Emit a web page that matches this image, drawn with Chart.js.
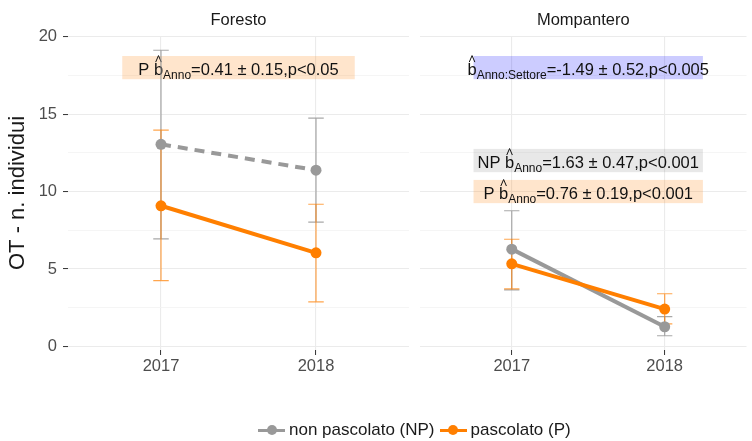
<!DOCTYPE html>
<html>
<head>
<meta charset="utf-8">
<script src="https://cdn.jsdelivr.net/npm/chart.js@4/dist/chart.umd.min.js"></script>
<style>
  html, body { margin: 0; padding: 0; background: #fff; }
  #wrap { position: relative; width: 752px; height: 441px; overflow: hidden; font-family: "Liberation Sans", Arial, sans-serif; }
  #wrap canvas { position: absolute; left: 0; top: 0; }
  #legend { position: absolute; top: 420px; left: 258px; display: flex; align-items: center; font-size: 17px; color: #1a1a1a; white-space: nowrap; }
  .key { position: relative; display: inline-block; width: 27px; height: 20px; margin-right: 4px; }
  .key::before { content: ""; position: absolute; left: 0; right: 0; top: 8.5px; height: 3px; background: var(--c); }
  .key::after { content: ""; position: absolute; left: 8.5px; top: 5px; width: 10px; height: 10px; border-radius: 50%; background: var(--c); }
  .lab { margin-right: 5px; }
</style>
</head>
<body>
<div id="wrap">
  <canvas id="left" width="752" height="441"></canvas>
  <canvas id="right" width="752" height="441"></canvas>
  <div id="legend">
    <span class="key" style="--c:#999999"></span><span class="lab">non pascolato (NP)</span>
    <span class="key" style="--c:#ff7f00"></span><span class="lab">pascolato (P)</span>
  </div>
</div>
<script>
const years = ["2017", "2018"];
const sites = ["Foresto", "Mompantero"];
const yTicks = [0, 2.5, 5, 7.5, 10, 12.5, 15, 17.5, 20];

// mean and error bar limits, per site, per year
const forestoNP = [13.05, 11.38];
const forestoNPlo = [6.94, 8.03];
const forestoNPhi = [19.12, 14.74];
const forestoP = [9.08, 6.04];
const forestoPlo = [4.25, 2.88];
const forestoPhi = [13.96, 9.18];

const mompNP = [6.28, 1.27];
const mompNPlo = [3.65, 0.69];
const mompNPhi = [8.76, 1.93];
const mompP = [5.33, 2.41];
const mompPlo = [3.72, 1.46];
const mompPhi = [6.92, 3.40];

// slope annotations
const noteSite = ["Foresto", "Mompantero", "Mompantero", "Mompantero"];
const notePrefix = ["P ", "", "NP ", "P "];
const noteSub = ["Anno", "Anno:Settore", "Anno", "Anno"];
const noteRest = ["=0.41 \u00b1 0.15,p<0.05", "=-1.49 \u00b1 0.52,p<0.005", "=1.63 \u00b1 0.47,p<0.001", "=0.76 \u00b1 0.19,p<0.001"];
const noteGroup = ["P", "both", "NP", "P"];
const noteY = [18, 18, 12, 10];

const GREY = "#999999";
const ORANGE = "#ff7f00";
const FONT = '"Liberation Sans", Arial, sans-serif';
const noteFill = { P: "rgba(255,127,0,0.2)", NP: "rgba(128,128,128,0.18)", both: "rgba(0,0,255,0.2)" };

const siteData = {
  Foresto: { np: forestoNP, npLo: forestoNPlo, npHi: forestoNPhi, p: forestoP, pLo: forestoPlo, pHi: forestoPhi, dash: [10, 7] },
  Mompantero: { np: mompNP, npLo: mompNPlo, npHi: mompNPhi, p: mompP, pLo: mompPlo, pHi: mompPhi, dash: [] }
};

function pts(arr) {
  return arr.map((v, i) => ({ x: i + 1, y: v }));
}

function drawNote(ctx, cx, cy, prefix, sub, rest) {
  const big = "16.5px " + FONT, small = "12px " + FONT;
  ctx.font = big;
  const wP = ctx.measureText(prefix).width;
  const wb = ctx.measureText("b").width;
  const wR = ctx.measureText(rest).width;
  ctx.font = small;
  const wS = ctx.measureText(sub).width;
  let x = cx - (wP + wb + wS + wR) / 2;
  const base = cy + 7.5;
  ctx.fillStyle = "#111";
  ctx.textAlign = "left";
  ctx.textBaseline = "alphabetic";
  ctx.font = big;
  ctx.fillText(prefix, x, base);
  x += wP;
  ctx.fillText("b", x, base);
  // hat over b
  ctx.strokeStyle = "#111";
  ctx.lineWidth = 1;
  ctx.beginPath();
  ctx.moveTo(x + wb / 2 - 2.8, base - 13);
  ctx.lineTo(x + wb / 2, base - 19.5);
  ctx.lineTo(x + wb / 2 + 2.8, base - 13);
  ctx.stroke();
  x += wb;
  ctx.font = small;
  ctx.fillText(sub, x, base + 3.5);
  x += wS;
  ctx.font = big;
  ctx.fillText(rest, x, base);
}

const panelPlugin = {
  id: "panel",
  beforeDatasetsDraw(chart) {
    const { ctx, scales: { x, y } } = chart;
    const site = chart.options.site;
    const d = siteData[site];
    ctx.save();
    // annotation boxes
    noteSite.forEach((s, i) => {
      if (s !== site) return;
      const x0 = x.getPixelForValue(0.75), x1 = x.getPixelForValue(2.25);
      const y0 = y.getPixelForValue(noteY[i] + 0.75), y1 = y.getPixelForValue(noteY[i] - 0.75);
      ctx.fillStyle = noteFill[noteGroup[i]];
      ctx.fillRect(x0, y0, x1 - x0, y1 - y0);
      drawNote(ctx, (x0 + x1) / 2, y.getPixelForValue(noteY[i]), notePrefix[i], noteSub[i], noteRest[i]);
    });
    // error bars
    const bars = [
      [d.npLo, d.npHi, "rgba(153,153,153,0.85)"],
      [d.pLo, d.pHi, "rgba(255,127,0,0.7)"]
    ];
    const half = (x.getPixelForValue(1.05) - x.getPixelForValue(1));
    bars.forEach(([lo, hi, col]) => {
      ctx.strokeStyle = col;
      ctx.lineWidth = 1.2;
      lo.forEach((v, i) => {
        const px = x.getPixelForValue(i + 1);
        const pl = y.getPixelForValue(v), ph = y.getPixelForValue(hi[i]);
        ctx.beginPath();
        ctx.moveTo(px, pl); ctx.lineTo(px, ph);
        ctx.moveTo(px - half, pl); ctx.lineTo(px + half, pl);
        ctx.moveTo(px - half, ph); ctx.lineTo(px + half, ph);
        ctx.stroke();
      });
    });
    ctx.restore();
  },
  afterDraw(chart) {
    const { ctx, chartArea } = chart;
    ctx.save();
    ctx.font = "16.5px " + FONT;
    ctx.fillStyle = "#1a1a1a";
    ctx.textAlign = "center";
    ctx.textBaseline = "middle";
    ctx.fillText(chart.options.site, (chartArea.left + chartArea.right) / 2, 20);
    ctx.restore();
  }
};

function makeChart(id, site, isLeft) {
  const d = siteData[site];
  return new Chart(document.getElementById(id), {
    type: "line",
    data: {
      datasets: [
        {
          label: "non pascolato (NP)", data: pts(d.np), order: 2,
          borderColor: GREY, backgroundColor: GREY, borderWidth: 4, borderDash: d.dash,
          pointRadius: 5.5, pointBorderWidth: 0, pointBackgroundColor: GREY
        },
        {
          label: "pascolato (P)", data: pts(d.p), order: 1,
          borderColor: ORANGE, backgroundColor: ORANGE, borderWidth: 4,
          pointRadius: 5.5, pointBorderWidth: 0, pointBackgroundColor: ORANGE
        }
      ]
    },
    options: {
      site: site,
      responsive: false,
      animation: false,
      devicePixelRatio: 1,
      layout: { padding: isLeft ? { left: 0, right: 343, top: 36, bottom: 61 } : { left: 420, right: 0, top: 36, bottom: 61 } },
      plugins: { legend: { display: false }, tooltip: { enabled: false }, title: { display: false } },
      scales: {
        x: {
          type: "linear",
          min: 0.4,
          max: isLeft ? 2.6 : 2.535,
          afterBuildTicks: (s) => { s.ticks = [{ value: 1 }, { value: 2 }]; },
          afterFit: (s) => { s.height = 30; },
          ticks: {
            autoSkip: false, maxRotation: 0, padding: 2, color: "#4d4d4d",
            font: { family: FONT, size: 16.5 },
            callback: (v) => years[v - 1]
          },
          grid: { color: "#ebebeb", lineWidth: 1.1, tickLength: 5, tickColor: "#333", tickWidth: 1 },
          border: { display: false }
        },
        y: {
          min: -0.23,
          max: 20.04,
          afterBuildTicks: (s) => { s.ticks = yTicks.map(v => ({ value: v })); },
          afterFit: (s) => { s.width = isLeft ? 68 : 0; },
          title: {
            display: isLeft, text: "OT - n. individui", color: "#1a1a1a",
            font: { family: FONT, size: 22 }, padding: { top: 5, bottom: 0 }
          },
          ticks: {
            display: isLeft, autoSkip: false, padding: 6, color: "#4d4d4d",
            font: { family: FONT, size: 16.5 },
            callback: (v) => (v % 5 === 0 ? String(v) : "")
          },
          grid: {
            drawTicks: isLeft,
            tickLength: 5,
            tickWidth: 1,
            color: (c) => (c.tick && c.tick.value % 5 === 0 ? "#ebebeb" : "#f3f3f3"),
            lineWidth: (c) => (c.tick && c.tick.value % 5 === 0 ? 1.1 : 0.8),
            tickColor: (c) => (c.tick && c.tick.value % 5 === 0 ? "#333" : "rgba(0,0,0,0)")
          },
          border: { display: false }
        }
      }
    },
    plugins: [panelPlugin]
  });
}

makeChart("left", sites[0], true);
makeChart("right", sites[1], false);
</script>
</body>
</html>
